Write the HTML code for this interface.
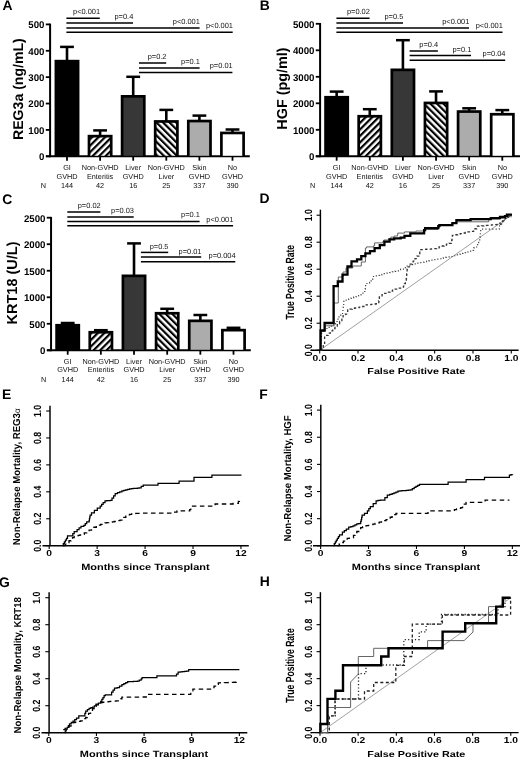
<!DOCTYPE html><html><head><meta charset="utf-8"><style>html,body{margin:0;padding:0;background:#fff;}svg{display:block;filter:blur(0.35px);}</style></head><body><svg width="520" height="759" viewBox="0 0 520 759" text-rendering="geometricPrecision" font-family='"Liberation Sans", sans-serif'>
<defs><pattern id="h1" patternUnits="userSpaceOnUse" width="4.6" height="10" patternTransform="rotate(45)"><rect x="0" y="0" width="2.2" height="10" fill="#000"/><rect x="2.2" y="0" width="2.4" height="10" fill="#fff"/></pattern><pattern id="h2" patternUnits="userSpaceOnUse" width="4.6" height="10" patternTransform="rotate(-45)"><rect x="0" y="0" width="2.2" height="10" fill="#000"/><rect x="2.2" y="0" width="2.4" height="10" fill="#fff"/></pattern></defs>
<rect x="0" y="0" width="520" height="759" fill="#fff"/>
<text x="2.40" y="9.90" font-size="13.9" font-weight="bold" text-anchor="start" fill="#000" >A</text>
<text x="259.80" y="9.90" font-size="13.9" font-weight="bold" text-anchor="start" fill="#000" >B</text>
<text x="2.20" y="204.20" font-size="13.9" font-weight="bold" text-anchor="start" fill="#000" >C</text>
<text x="259.50" y="203.20" font-size="13.9" font-weight="bold" text-anchor="start" fill="#000" >D</text>
<text x="2.10" y="399.20" font-size="13.9" font-weight="bold" text-anchor="start" fill="#000" >E</text>
<text x="259.20" y="398.50" font-size="13.9" font-weight="bold" text-anchor="start" fill="#000" >F</text>
<text x="-0.90" y="586.70" font-size="13.9" font-weight="bold" text-anchor="start" fill="#000" >G</text>
<text x="259.80" y="586.40" font-size="13.9" font-weight="bold" text-anchor="start" fill="#000" >H</text>
<line x1="50.10" y1="23.60" x2="50.10" y2="157.20" stroke="#000" stroke-width="2.0" />
<line x1="45.80" y1="156.30" x2="50.10" y2="156.30" stroke="#000" stroke-width="1.8" />
<text x="44.50" y="160.20" font-size="9.7" font-weight="bold" text-anchor="end" fill="#000" >0</text>
<line x1="45.80" y1="129.92" x2="50.10" y2="129.92" stroke="#000" stroke-width="1.8" />
<text x="44.50" y="133.82" font-size="9.7" font-weight="bold" text-anchor="end" fill="#000" >100</text>
<line x1="45.80" y1="103.54" x2="50.10" y2="103.54" stroke="#000" stroke-width="1.8" />
<text x="44.50" y="107.44" font-size="9.7" font-weight="bold" text-anchor="end" fill="#000" >200</text>
<line x1="45.80" y1="77.16" x2="50.10" y2="77.16" stroke="#000" stroke-width="1.8" />
<text x="44.50" y="81.06" font-size="9.7" font-weight="bold" text-anchor="end" fill="#000" >300</text>
<line x1="45.80" y1="50.78" x2="50.10" y2="50.78" stroke="#000" stroke-width="1.8" />
<text x="44.50" y="54.68" font-size="9.7" font-weight="bold" text-anchor="end" fill="#000" >400</text>
<line x1="45.80" y1="24.40" x2="50.10" y2="24.40" stroke="#000" stroke-width="1.8" />
<text x="44.50" y="28.30" font-size="9.7" font-weight="bold" text-anchor="end" fill="#000" >500</text>
<line x1="46.00" y1="156.30" x2="249.80" y2="156.30" stroke="#000" stroke-width="1.9" />
<line x1="67.00" y1="156.30" x2="67.00" y2="160.70" stroke="#000" stroke-width="1.8" />
<line x1="100.10" y1="156.30" x2="100.10" y2="160.70" stroke="#000" stroke-width="1.8" />
<line x1="133.20" y1="156.30" x2="133.20" y2="160.70" stroke="#000" stroke-width="1.8" />
<line x1="166.30" y1="156.30" x2="166.30" y2="160.70" stroke="#000" stroke-width="1.8" />
<line x1="199.40" y1="156.30" x2="199.40" y2="160.70" stroke="#000" stroke-width="1.8" />
<line x1="232.50" y1="156.30" x2="232.50" y2="160.70" stroke="#000" stroke-width="1.8" />
<line x1="67.00" y1="46.90" x2="67.00" y2="60.80" stroke="#000" stroke-width="2.6" />
<line x1="60.10" y1="46.90" x2="73.90" y2="46.90" stroke="#000" stroke-width="2.5" />
<rect x="54.55" y="59.80" width="24.90" height="96.50" fill="#000"/>
<line x1="100.10" y1="130.40" x2="100.10" y2="135.80" stroke="#000" stroke-width="2.6" />
<line x1="93.20" y1="130.40" x2="107.00" y2="130.40" stroke="#000" stroke-width="2.5" />
<rect x="87.65" y="134.80" width="24.90" height="21.50" fill="#000"/>
<rect x="90.35" y="137.50" width="19.50" height="18.30" fill="url(#h1)"/>
<line x1="133.20" y1="76.80" x2="133.20" y2="96.00" stroke="#000" stroke-width="2.6" />
<line x1="126.30" y1="76.80" x2="140.10" y2="76.80" stroke="#000" stroke-width="2.5" />
<rect x="120.75" y="95.00" width="24.90" height="61.30" fill="#000"/>
<rect x="123.45" y="97.70" width="19.50" height="58.10" fill="#373737"/>
<line x1="166.30" y1="109.90" x2="166.30" y2="121.10" stroke="#000" stroke-width="2.6" />
<line x1="159.40" y1="109.90" x2="173.20" y2="109.90" stroke="#000" stroke-width="2.5" />
<rect x="153.85" y="120.10" width="24.90" height="36.20" fill="#000"/>
<rect x="156.55" y="122.80" width="19.50" height="33.00" fill="url(#h2)"/>
<line x1="199.40" y1="115.60" x2="199.40" y2="120.70" stroke="#000" stroke-width="2.6" />
<line x1="192.50" y1="115.60" x2="206.30" y2="115.60" stroke="#000" stroke-width="2.5" />
<rect x="186.95" y="119.70" width="24.90" height="36.60" fill="#000"/>
<rect x="189.65" y="122.40" width="19.50" height="33.40" fill="#acacac"/>
<line x1="232.50" y1="129.50" x2="232.50" y2="132.60" stroke="#000" stroke-width="2.6" />
<line x1="225.60" y1="129.50" x2="239.40" y2="129.50" stroke="#000" stroke-width="2.5" />
<rect x="220.05" y="131.60" width="24.90" height="24.70" fill="#000"/>
<rect x="222.75" y="134.30" width="19.50" height="21.50" fill="#fff"/>
<line x1="66.40" y1="18.30" x2="99.80" y2="18.30" stroke="#000" stroke-width="1.5" />
<text x="100.10" y="14.20" font-size="7.45" font-weight="normal" text-anchor="end" fill="#111" >p&lt;0.001</text>
<line x1="66.40" y1="23.10" x2="133.00" y2="23.10" stroke="#000" stroke-width="1.5" />
<text x="133.30" y="19.00" font-size="7.45" font-weight="normal" text-anchor="end" fill="#111" >p=0.4</text>
<line x1="66.40" y1="27.90" x2="199.60" y2="27.90" stroke="#000" stroke-width="1.5" />
<text x="199.90" y="23.80" font-size="7.45" font-weight="normal" text-anchor="end" fill="#111" >p&lt;0.001</text>
<line x1="66.40" y1="32.30" x2="232.70" y2="32.30" stroke="#000" stroke-width="1.5" />
<text x="233.00" y="28.20" font-size="7.45" font-weight="normal" text-anchor="end" fill="#111" >p&lt;0.001</text>
<line x1="139.00" y1="63.00" x2="166.20" y2="63.00" stroke="#000" stroke-width="1.5" />
<text x="166.50" y="59.20" font-size="7.45" font-weight="normal" text-anchor="end" fill="#111" >p=0.2</text>
<line x1="139.00" y1="67.90" x2="199.60" y2="67.90" stroke="#000" stroke-width="1.5" />
<text x="199.90" y="64.30" font-size="7.45" font-weight="normal" text-anchor="end" fill="#111" >p=0.1</text>
<line x1="139.00" y1="72.50" x2="232.40" y2="72.50" stroke="#000" stroke-width="1.5" />
<text x="232.70" y="68.40" font-size="7.45" font-weight="normal" text-anchor="end" fill="#111" >p=0.01</text>
<text x="67.00" y="169.60" font-size="7.3" font-weight="normal" text-anchor="middle" fill="#111" >GI</text>
<text x="67.00" y="179.10" font-size="7.3" font-weight="normal" text-anchor="middle" fill="#111" >GVHD</text>
<text x="67.00" y="188.30" font-size="7.3" font-weight="normal" text-anchor="middle" fill="#111" >144</text>
<text x="100.10" y="169.60" font-size="7.3" font-weight="normal" text-anchor="middle" fill="#111" >Non-GVHD</text>
<text x="100.10" y="179.10" font-size="7.3" font-weight="normal" text-anchor="middle" fill="#111" >Enteritis</text>
<text x="100.10" y="188.30" font-size="7.3" font-weight="normal" text-anchor="middle" fill="#111" >42</text>
<text x="133.20" y="169.60" font-size="7.3" font-weight="normal" text-anchor="middle" fill="#111" >Liver</text>
<text x="133.20" y="179.10" font-size="7.3" font-weight="normal" text-anchor="middle" fill="#111" >GVHD</text>
<text x="133.20" y="188.30" font-size="7.3" font-weight="normal" text-anchor="middle" fill="#111" >16</text>
<text x="166.30" y="169.60" font-size="7.3" font-weight="normal" text-anchor="middle" fill="#111" >Non-GVHD</text>
<text x="166.30" y="179.10" font-size="7.3" font-weight="normal" text-anchor="middle" fill="#111" >Liver</text>
<text x="166.30" y="188.30" font-size="7.3" font-weight="normal" text-anchor="middle" fill="#111" >25</text>
<text x="199.40" y="169.60" font-size="7.3" font-weight="normal" text-anchor="middle" fill="#111" >Skin</text>
<text x="199.40" y="179.10" font-size="7.3" font-weight="normal" text-anchor="middle" fill="#111" >GVHD</text>
<text x="199.40" y="188.30" font-size="7.3" font-weight="normal" text-anchor="middle" fill="#111" >337</text>
<text x="232.50" y="169.60" font-size="7.3" font-weight="normal" text-anchor="middle" fill="#111" >No</text>
<text x="232.50" y="179.10" font-size="7.3" font-weight="normal" text-anchor="middle" fill="#111" >GVHD</text>
<text x="232.50" y="188.30" font-size="7.3" font-weight="normal" text-anchor="middle" fill="#111" >390</text>
<text x="40.80" y="188.30" font-size="7.3" font-weight="normal" text-anchor="start" fill="#111" >N</text>
<text transform="translate(23.00,89.10) rotate(-90)" font-size="14.1" font-weight="bold" text-anchor="middle" fill="#000">REG3a (ng/mL)</text>
<line x1="320.10" y1="23.00" x2="320.10" y2="157.20" stroke="#000" stroke-width="2.0" />
<line x1="315.80" y1="156.30" x2="320.10" y2="156.30" stroke="#000" stroke-width="1.8" />
<text x="314.50" y="160.20" font-size="9.7" font-weight="bold" text-anchor="end" fill="#000" >0</text>
<line x1="315.80" y1="129.80" x2="320.10" y2="129.80" stroke="#000" stroke-width="1.8" />
<text x="314.50" y="133.70" font-size="9.7" font-weight="bold" text-anchor="end" fill="#000" >1000</text>
<line x1="315.80" y1="103.30" x2="320.10" y2="103.30" stroke="#000" stroke-width="1.8" />
<text x="314.50" y="107.20" font-size="9.7" font-weight="bold" text-anchor="end" fill="#000" >2000</text>
<line x1="315.80" y1="76.80" x2="320.10" y2="76.80" stroke="#000" stroke-width="1.8" />
<text x="314.50" y="80.70" font-size="9.7" font-weight="bold" text-anchor="end" fill="#000" >3000</text>
<line x1="315.80" y1="50.30" x2="320.10" y2="50.30" stroke="#000" stroke-width="1.8" />
<text x="314.50" y="54.20" font-size="9.7" font-weight="bold" text-anchor="end" fill="#000" >4000</text>
<line x1="315.80" y1="23.80" x2="320.10" y2="23.80" stroke="#000" stroke-width="1.8" />
<text x="314.50" y="27.70" font-size="9.7" font-weight="bold" text-anchor="end" fill="#000" >5000</text>
<line x1="315.80" y1="156.30" x2="520.00" y2="156.30" stroke="#000" stroke-width="1.9" />
<line x1="336.65" y1="156.30" x2="336.65" y2="160.70" stroke="#000" stroke-width="1.8" />
<line x1="369.78" y1="156.30" x2="369.78" y2="160.70" stroke="#000" stroke-width="1.8" />
<line x1="402.91" y1="156.30" x2="402.91" y2="160.70" stroke="#000" stroke-width="1.8" />
<line x1="436.04" y1="156.30" x2="436.04" y2="160.70" stroke="#000" stroke-width="1.8" />
<line x1="469.17" y1="156.30" x2="469.17" y2="160.70" stroke="#000" stroke-width="1.8" />
<line x1="502.30" y1="156.30" x2="502.30" y2="160.70" stroke="#000" stroke-width="1.8" />
<line x1="336.65" y1="91.60" x2="336.65" y2="96.90" stroke="#000" stroke-width="2.6" />
<line x1="329.75" y1="91.60" x2="343.55" y2="91.60" stroke="#000" stroke-width="2.5" />
<rect x="324.20" y="95.90" width="24.90" height="60.40" fill="#000"/>
<line x1="369.78" y1="109.20" x2="369.78" y2="115.90" stroke="#000" stroke-width="2.6" />
<line x1="362.88" y1="109.20" x2="376.68" y2="109.20" stroke="#000" stroke-width="2.5" />
<rect x="357.33" y="114.90" width="24.90" height="41.40" fill="#000"/>
<rect x="360.03" y="117.60" width="19.50" height="38.20" fill="url(#h1)"/>
<line x1="402.91" y1="40.20" x2="402.91" y2="69.50" stroke="#000" stroke-width="2.6" />
<line x1="396.01" y1="40.20" x2="409.81" y2="40.20" stroke="#000" stroke-width="2.5" />
<rect x="390.46" y="68.50" width="24.90" height="87.80" fill="#000"/>
<rect x="393.16" y="71.20" width="19.50" height="84.60" fill="#373737"/>
<line x1="436.04" y1="91.40" x2="436.04" y2="102.60" stroke="#000" stroke-width="2.6" />
<line x1="429.14" y1="91.40" x2="442.94" y2="91.40" stroke="#000" stroke-width="2.5" />
<rect x="423.59" y="101.60" width="24.90" height="54.70" fill="#000"/>
<rect x="426.29" y="104.30" width="19.50" height="51.50" fill="url(#h2)"/>
<line x1="469.17" y1="108.30" x2="469.17" y2="111.20" stroke="#000" stroke-width="2.6" />
<line x1="462.27" y1="108.30" x2="476.07" y2="108.30" stroke="#000" stroke-width="2.5" />
<rect x="456.72" y="110.20" width="24.90" height="46.10" fill="#000"/>
<rect x="459.42" y="112.90" width="19.50" height="42.90" fill="#acacac"/>
<line x1="502.30" y1="110.10" x2="502.30" y2="113.90" stroke="#000" stroke-width="2.6" />
<line x1="495.40" y1="110.10" x2="509.20" y2="110.10" stroke="#000" stroke-width="2.5" />
<rect x="489.85" y="112.90" width="24.90" height="43.40" fill="#000"/>
<rect x="492.55" y="115.60" width="19.50" height="40.20" fill="#fff"/>
<line x1="336.40" y1="18.30" x2="369.60" y2="18.30" stroke="#000" stroke-width="1.5" />
<text x="369.90" y="14.20" font-size="7.45" font-weight="normal" text-anchor="end" fill="#111" >p=0.02</text>
<line x1="336.40" y1="23.10" x2="403.00" y2="23.10" stroke="#000" stroke-width="1.5" />
<text x="403.30" y="19.00" font-size="7.45" font-weight="normal" text-anchor="end" fill="#111" >p=0.5</text>
<line x1="336.40" y1="27.90" x2="469.00" y2="27.90" stroke="#000" stroke-width="1.5" />
<text x="469.30" y="23.80" font-size="7.45" font-weight="normal" text-anchor="end" fill="#111" >p&lt;0.001</text>
<line x1="336.40" y1="32.30" x2="502.50" y2="32.30" stroke="#000" stroke-width="1.5" />
<text x="502.80" y="28.20" font-size="7.45" font-weight="normal" text-anchor="end" fill="#111" >p&lt;0.001</text>
<line x1="409.60" y1="51.00" x2="437.90" y2="51.00" stroke="#000" stroke-width="1.5" />
<text x="438.20" y="47.20" font-size="7.45" font-weight="normal" text-anchor="end" fill="#111" >p=0.4</text>
<line x1="409.60" y1="55.50" x2="471.00" y2="55.50" stroke="#000" stroke-width="1.5" />
<text x="471.30" y="52.40" font-size="7.45" font-weight="normal" text-anchor="end" fill="#111" >p=0.1</text>
<line x1="409.60" y1="60.20" x2="505.20" y2="60.20" stroke="#000" stroke-width="1.5" />
<text x="505.50" y="56.10" font-size="7.45" font-weight="normal" text-anchor="end" fill="#111" >p=0.04</text>
<text x="336.65" y="169.80" font-size="7.3" font-weight="normal" text-anchor="middle" fill="#111" >GI</text>
<text x="336.65" y="179.20" font-size="7.3" font-weight="normal" text-anchor="middle" fill="#111" >GVHD</text>
<text x="336.65" y="188.00" font-size="7.3" font-weight="normal" text-anchor="middle" fill="#111" >144</text>
<text x="369.78" y="169.80" font-size="7.3" font-weight="normal" text-anchor="middle" fill="#111" >Non-GVHD</text>
<text x="369.78" y="179.20" font-size="7.3" font-weight="normal" text-anchor="middle" fill="#111" >Enteritis</text>
<text x="369.78" y="188.00" font-size="7.3" font-weight="normal" text-anchor="middle" fill="#111" >42</text>
<text x="402.91" y="169.80" font-size="7.3" font-weight="normal" text-anchor="middle" fill="#111" >Liver</text>
<text x="402.91" y="179.20" font-size="7.3" font-weight="normal" text-anchor="middle" fill="#111" >GVHD</text>
<text x="402.91" y="188.00" font-size="7.3" font-weight="normal" text-anchor="middle" fill="#111" >16</text>
<text x="436.04" y="169.80" font-size="7.3" font-weight="normal" text-anchor="middle" fill="#111" >Non-GVHD</text>
<text x="436.04" y="179.20" font-size="7.3" font-weight="normal" text-anchor="middle" fill="#111" >Liver</text>
<text x="436.04" y="188.00" font-size="7.3" font-weight="normal" text-anchor="middle" fill="#111" >25</text>
<text x="469.17" y="169.80" font-size="7.3" font-weight="normal" text-anchor="middle" fill="#111" >Skin</text>
<text x="469.17" y="179.20" font-size="7.3" font-weight="normal" text-anchor="middle" fill="#111" >GVHD</text>
<text x="469.17" y="188.00" font-size="7.3" font-weight="normal" text-anchor="middle" fill="#111" >337</text>
<text x="502.30" y="169.80" font-size="7.3" font-weight="normal" text-anchor="middle" fill="#111" >No</text>
<text x="502.30" y="179.20" font-size="7.3" font-weight="normal" text-anchor="middle" fill="#111" >GVHD</text>
<text x="502.30" y="188.00" font-size="7.3" font-weight="normal" text-anchor="middle" fill="#111" >390</text>
<text x="310.00" y="188.00" font-size="7.3" font-weight="normal" text-anchor="start" fill="#111" >N</text>
<text transform="translate(287.00,88.50) rotate(-90)" font-size="14.4" font-weight="bold" text-anchor="middle" fill="#000">HGF (pg/ml)</text>
<line x1="51.05" y1="216.90" x2="51.05" y2="351.20" stroke="#000" stroke-width="2.0" />
<line x1="46.75" y1="350.30" x2="51.05" y2="350.30" stroke="#000" stroke-width="1.8" />
<text x="45.45" y="354.20" font-size="9.7" font-weight="bold" text-anchor="end" fill="#000" >0</text>
<line x1="46.75" y1="323.78" x2="51.05" y2="323.78" stroke="#000" stroke-width="1.8" />
<text x="45.45" y="327.68" font-size="9.7" font-weight="bold" text-anchor="end" fill="#000" >500</text>
<line x1="46.75" y1="297.26" x2="51.05" y2="297.26" stroke="#000" stroke-width="1.8" />
<text x="45.45" y="301.16" font-size="9.7" font-weight="bold" text-anchor="end" fill="#000" >1000</text>
<line x1="46.75" y1="270.74" x2="51.05" y2="270.74" stroke="#000" stroke-width="1.8" />
<text x="45.45" y="274.64" font-size="9.7" font-weight="bold" text-anchor="end" fill="#000" >1500</text>
<line x1="46.75" y1="244.22" x2="51.05" y2="244.22" stroke="#000" stroke-width="1.8" />
<text x="45.45" y="248.12" font-size="9.7" font-weight="bold" text-anchor="end" fill="#000" >2000</text>
<line x1="46.75" y1="217.70" x2="51.05" y2="217.70" stroke="#000" stroke-width="1.8" />
<text x="45.45" y="221.60" font-size="9.7" font-weight="bold" text-anchor="end" fill="#000" >2500</text>
<line x1="47.00" y1="350.30" x2="250.80" y2="350.30" stroke="#000" stroke-width="1.9" />
<line x1="67.70" y1="350.30" x2="67.70" y2="354.70" stroke="#000" stroke-width="1.8" />
<line x1="100.86" y1="350.30" x2="100.86" y2="354.70" stroke="#000" stroke-width="1.8" />
<line x1="134.02" y1="350.30" x2="134.02" y2="354.70" stroke="#000" stroke-width="1.8" />
<line x1="167.18" y1="350.30" x2="167.18" y2="354.70" stroke="#000" stroke-width="1.8" />
<line x1="200.34" y1="350.30" x2="200.34" y2="354.70" stroke="#000" stroke-width="1.8" />
<line x1="233.50" y1="350.30" x2="233.50" y2="354.70" stroke="#000" stroke-width="1.8" />
<line x1="67.70" y1="323.00" x2="67.70" y2="324.90" stroke="#000" stroke-width="2.6" />
<line x1="60.80" y1="323.00" x2="74.60" y2="323.00" stroke="#000" stroke-width="2.5" />
<rect x="55.25" y="323.90" width="24.90" height="26.40" fill="#000"/>
<line x1="100.86" y1="330.20" x2="100.86" y2="331.90" stroke="#000" stroke-width="2.6" />
<line x1="93.96" y1="330.20" x2="107.76" y2="330.20" stroke="#000" stroke-width="2.5" />
<rect x="88.41" y="330.90" width="24.90" height="19.40" fill="#000"/>
<rect x="91.11" y="333.60" width="19.50" height="16.20" fill="url(#h1)"/>
<line x1="134.02" y1="243.40" x2="134.02" y2="275.50" stroke="#000" stroke-width="2.6" />
<line x1="127.12" y1="243.40" x2="140.92" y2="243.40" stroke="#000" stroke-width="2.5" />
<rect x="121.57" y="274.50" width="24.90" height="75.80" fill="#000"/>
<rect x="124.27" y="277.20" width="19.50" height="72.60" fill="#373737"/>
<line x1="167.18" y1="308.80" x2="167.18" y2="312.90" stroke="#000" stroke-width="2.6" />
<line x1="160.28" y1="308.80" x2="174.08" y2="308.80" stroke="#000" stroke-width="2.5" />
<rect x="154.73" y="311.90" width="24.90" height="38.40" fill="#000"/>
<rect x="157.43" y="314.60" width="19.50" height="35.20" fill="url(#h2)"/>
<line x1="200.34" y1="315.00" x2="200.34" y2="320.50" stroke="#000" stroke-width="2.6" />
<line x1="193.44" y1="315.00" x2="207.24" y2="315.00" stroke="#000" stroke-width="2.5" />
<rect x="187.89" y="319.50" width="24.90" height="30.80" fill="#000"/>
<rect x="190.59" y="322.20" width="19.50" height="27.60" fill="#acacac"/>
<line x1="233.50" y1="327.80" x2="233.50" y2="329.80" stroke="#000" stroke-width="2.6" />
<line x1="226.60" y1="327.80" x2="240.40" y2="327.80" stroke="#000" stroke-width="2.5" />
<rect x="221.05" y="328.80" width="24.90" height="21.50" fill="#000"/>
<rect x="223.75" y="331.50" width="19.50" height="18.30" fill="#fff"/>
<line x1="67.30" y1="211.90" x2="100.40" y2="211.90" stroke="#000" stroke-width="1.5" />
<text x="100.70" y="207.80" font-size="7.45" font-weight="normal" text-anchor="end" fill="#111" >p=0.02</text>
<line x1="67.30" y1="217.10" x2="133.70" y2="217.10" stroke="#000" stroke-width="1.5" />
<text x="134.00" y="213.00" font-size="7.45" font-weight="normal" text-anchor="end" fill="#111" >p=0.03</text>
<line x1="67.30" y1="221.50" x2="199.60" y2="221.50" stroke="#000" stroke-width="1.5" />
<text x="199.90" y="217.40" font-size="7.45" font-weight="normal" text-anchor="end" fill="#111" >p=0.1</text>
<line x1="67.30" y1="225.80" x2="233.10" y2="225.80" stroke="#000" stroke-width="1.5" />
<text x="233.40" y="221.70" font-size="7.45" font-weight="normal" text-anchor="end" fill="#111" >p&lt;0.001</text>
<line x1="140.90" y1="252.40" x2="168.20" y2="252.40" stroke="#000" stroke-width="1.5" />
<text x="168.50" y="248.80" font-size="7.45" font-weight="normal" text-anchor="end" fill="#111" >p=0.5</text>
<line x1="140.90" y1="257.00" x2="201.20" y2="257.00" stroke="#000" stroke-width="1.5" />
<text x="201.50" y="253.90" font-size="7.45" font-weight="normal" text-anchor="end" fill="#111" >p=0.01</text>
<line x1="140.90" y1="261.80" x2="235.30" y2="261.80" stroke="#000" stroke-width="1.5" />
<text x="235.60" y="257.70" font-size="7.45" font-weight="normal" text-anchor="end" fill="#111" >p=0.004</text>
<text x="67.70" y="363.70" font-size="7.3" font-weight="normal" text-anchor="middle" fill="#111" >GI</text>
<text x="67.70" y="372.20" font-size="7.3" font-weight="normal" text-anchor="middle" fill="#111" >GVHD</text>
<text x="67.70" y="382.20" font-size="7.3" font-weight="normal" text-anchor="middle" fill="#111" >144</text>
<text x="100.86" y="363.70" font-size="7.3" font-weight="normal" text-anchor="middle" fill="#111" >Non-GVHD</text>
<text x="100.86" y="372.20" font-size="7.3" font-weight="normal" text-anchor="middle" fill="#111" >Enteritis</text>
<text x="100.86" y="382.20" font-size="7.3" font-weight="normal" text-anchor="middle" fill="#111" >42</text>
<text x="134.02" y="363.70" font-size="7.3" font-weight="normal" text-anchor="middle" fill="#111" >Liver</text>
<text x="134.02" y="372.20" font-size="7.3" font-weight="normal" text-anchor="middle" fill="#111" >GVHD</text>
<text x="134.02" y="382.20" font-size="7.3" font-weight="normal" text-anchor="middle" fill="#111" >16</text>
<text x="167.18" y="363.70" font-size="7.3" font-weight="normal" text-anchor="middle" fill="#111" >Non-GVHD</text>
<text x="167.18" y="372.20" font-size="7.3" font-weight="normal" text-anchor="middle" fill="#111" >Liver</text>
<text x="167.18" y="382.20" font-size="7.3" font-weight="normal" text-anchor="middle" fill="#111" >25</text>
<text x="200.34" y="363.70" font-size="7.3" font-weight="normal" text-anchor="middle" fill="#111" >Skin</text>
<text x="200.34" y="372.20" font-size="7.3" font-weight="normal" text-anchor="middle" fill="#111" >GVHD</text>
<text x="200.34" y="382.20" font-size="7.3" font-weight="normal" text-anchor="middle" fill="#111" >337</text>
<text x="233.50" y="363.70" font-size="7.3" font-weight="normal" text-anchor="middle" fill="#111" >No</text>
<text x="233.50" y="372.20" font-size="7.3" font-weight="normal" text-anchor="middle" fill="#111" >GVHD</text>
<text x="233.50" y="382.20" font-size="7.3" font-weight="normal" text-anchor="middle" fill="#111" >390</text>
<text x="41.00" y="382.20" font-size="7.3" font-weight="normal" text-anchor="start" fill="#111" >N</text>
<text transform="translate(17.00,283.00) rotate(-90)" font-size="14.5" font-weight="bold" text-anchor="middle" fill="#000">KRT18 (U/L)</text>
<line x1="320.40" y1="209.70" x2="320.40" y2="350.20" stroke="#000" stroke-width="1.45" />
<line x1="310.80" y1="350.20" x2="518.60" y2="350.20" stroke="#000" stroke-width="1.45" />
<line x1="316.60" y1="350.20" x2="320.40" y2="350.20" stroke="#000" stroke-width="1.1" />
<text transform="translate(311.50,350.20) rotate(-90) scale(1.0,1.2)" font-size="8.7" font-weight="bold" text-anchor="middle" fill="#000">0.0</text>
<line x1="316.60" y1="323.20" x2="320.40" y2="323.20" stroke="#000" stroke-width="1.1" />
<text transform="translate(311.50,323.20) rotate(-90) scale(1.0,1.2)" font-size="8.7" font-weight="bold" text-anchor="middle" fill="#000">0.2</text>
<line x1="316.60" y1="296.20" x2="320.40" y2="296.20" stroke="#000" stroke-width="1.1" />
<text transform="translate(311.50,296.20) rotate(-90) scale(1.0,1.2)" font-size="8.7" font-weight="bold" text-anchor="middle" fill="#000">0.4</text>
<line x1="316.60" y1="269.20" x2="320.40" y2="269.20" stroke="#000" stroke-width="1.1" />
<text transform="translate(311.50,269.20) rotate(-90) scale(1.0,1.2)" font-size="8.7" font-weight="bold" text-anchor="middle" fill="#000">0.6</text>
<line x1="316.60" y1="242.20" x2="320.40" y2="242.20" stroke="#000" stroke-width="1.1" />
<text transform="translate(311.50,242.20) rotate(-90) scale(1.0,1.2)" font-size="8.7" font-weight="bold" text-anchor="middle" fill="#000">0.8</text>
<line x1="316.60" y1="215.20" x2="320.40" y2="215.20" stroke="#000" stroke-width="1.1" />
<text transform="translate(311.50,215.20) rotate(-90) scale(1.0,1.2)" font-size="8.7" font-weight="bold" text-anchor="middle" fill="#000">1.0</text>
<line x1="319.70" y1="350.20" x2="319.70" y2="353.40" stroke="#000" stroke-width="1.1" />
<text transform="translate(319.70,360.50) scale(1.18,1.0)" font-size="8.7" font-weight="bold" text-anchor="middle" fill="#000">0.0</text>
<line x1="358.02" y1="350.20" x2="358.02" y2="353.40" stroke="#000" stroke-width="1.1" />
<text transform="translate(358.02,360.50) scale(1.18,1.0)" font-size="8.7" font-weight="bold" text-anchor="middle" fill="#000">0.2</text>
<line x1="396.34" y1="350.20" x2="396.34" y2="353.40" stroke="#000" stroke-width="1.1" />
<text transform="translate(396.34,360.50) scale(1.18,1.0)" font-size="8.7" font-weight="bold" text-anchor="middle" fill="#000">0.4</text>
<line x1="434.66" y1="350.20" x2="434.66" y2="353.40" stroke="#000" stroke-width="1.1" />
<text transform="translate(434.66,360.50) scale(1.18,1.0)" font-size="8.7" font-weight="bold" text-anchor="middle" fill="#000">0.6</text>
<line x1="472.98" y1="350.20" x2="472.98" y2="353.40" stroke="#000" stroke-width="1.1" />
<text transform="translate(472.98,360.50) scale(1.18,1.0)" font-size="8.7" font-weight="bold" text-anchor="middle" fill="#000">0.8</text>
<line x1="511.30" y1="350.20" x2="511.30" y2="353.40" stroke="#000" stroke-width="1.1" />
<text transform="translate(511.30,360.50) scale(1.18,1.0)" font-size="8.7" font-weight="bold" text-anchor="middle" fill="#000">1.0</text>
<text transform="translate(416.30,374.40) scale(1.25,1.0)" font-size="8.6" font-weight="bold" text-anchor="middle" fill="#000">False Positive Rate</text>
<text transform="translate(294.20,282.20) rotate(-90) scale(1.0,1.38)" font-size="8.6" font-weight="bold" text-anchor="middle" fill="#000">True Positive Rate</text>
<line x1="50.00" y1="405.80" x2="50.00" y2="545.70" stroke="#000" stroke-width="1.45" />
<line x1="42.50" y1="545.70" x2="248.80" y2="545.70" stroke="#000" stroke-width="1.45" />
<line x1="46.20" y1="545.70" x2="50.00" y2="545.70" stroke="#000" stroke-width="1.1" />
<text transform="translate(40.80,545.70) rotate(-90) scale(1.0,1.2)" font-size="8.7" font-weight="bold" text-anchor="middle" fill="#000">0.0</text>
<line x1="46.20" y1="518.76" x2="50.00" y2="518.76" stroke="#000" stroke-width="1.1" />
<text transform="translate(40.80,518.76) rotate(-90) scale(1.0,1.2)" font-size="8.7" font-weight="bold" text-anchor="middle" fill="#000">0.2</text>
<line x1="46.20" y1="491.82" x2="50.00" y2="491.82" stroke="#000" stroke-width="1.1" />
<text transform="translate(40.80,491.82) rotate(-90) scale(1.0,1.2)" font-size="8.7" font-weight="bold" text-anchor="middle" fill="#000">0.4</text>
<line x1="46.20" y1="464.88" x2="50.00" y2="464.88" stroke="#000" stroke-width="1.1" />
<text transform="translate(40.80,464.88) rotate(-90) scale(1.0,1.2)" font-size="8.7" font-weight="bold" text-anchor="middle" fill="#000">0.6</text>
<line x1="46.20" y1="437.94" x2="50.00" y2="437.94" stroke="#000" stroke-width="1.1" />
<text transform="translate(40.80,437.94) rotate(-90) scale(1.0,1.2)" font-size="8.7" font-weight="bold" text-anchor="middle" fill="#000">0.8</text>
<line x1="46.20" y1="411.00" x2="50.00" y2="411.00" stroke="#000" stroke-width="1.1" />
<text transform="translate(40.80,411.00) rotate(-90) scale(1.0,1.2)" font-size="8.7" font-weight="bold" text-anchor="middle" fill="#000">1.0</text>
<line x1="49.20" y1="545.70" x2="49.20" y2="548.90" stroke="#000" stroke-width="1.1" />
<text transform="translate(49.20,556.00) scale(1.18,1.0)" font-size="8.7" font-weight="bold" text-anchor="middle" fill="#000">0</text>
<line x1="97.14" y1="545.70" x2="97.14" y2="548.90" stroke="#000" stroke-width="1.1" />
<text transform="translate(97.14,556.00) scale(1.18,1.0)" font-size="8.7" font-weight="bold" text-anchor="middle" fill="#000">3</text>
<line x1="145.08" y1="545.70" x2="145.08" y2="548.90" stroke="#000" stroke-width="1.1" />
<text transform="translate(145.08,556.00) scale(1.18,1.0)" font-size="8.7" font-weight="bold" text-anchor="middle" fill="#000">6</text>
<line x1="193.02" y1="545.70" x2="193.02" y2="548.90" stroke="#000" stroke-width="1.1" />
<text transform="translate(193.02,556.00) scale(1.18,1.0)" font-size="8.7" font-weight="bold" text-anchor="middle" fill="#000">9</text>
<line x1="240.96" y1="545.70" x2="240.96" y2="548.90" stroke="#000" stroke-width="1.1" />
<text transform="translate(240.96,556.00) scale(1.18,1.0)" font-size="8.7" font-weight="bold" text-anchor="middle" fill="#000">12</text>
<text transform="translate(145.40,570.10) scale(1.216,1.0)" font-size="9.0" font-weight="bold" text-anchor="middle" fill="#000">Months since Transplant</text>
<text transform="translate(20.40,476.80) rotate(-90) scale(1.0,1.05)" font-size="9.6" font-weight="bold" text-anchor="middle" fill="#000">Non-Relapse Mortality, REG3<tspan font-weight="normal" font-size="8">&#945;</tspan></text>
<line x1="320.80" y1="404.70" x2="320.80" y2="545.80" stroke="#000" stroke-width="1.45" />
<line x1="313.00" y1="545.80" x2="520.00" y2="545.80" stroke="#000" stroke-width="1.45" />
<line x1="317.00" y1="545.80" x2="320.80" y2="545.80" stroke="#000" stroke-width="1.1" />
<text transform="translate(312.00,545.80) rotate(-90) scale(1.0,1.2)" font-size="8.7" font-weight="bold" text-anchor="middle" fill="#000">0.0</text>
<line x1="317.00" y1="518.66" x2="320.80" y2="518.66" stroke="#000" stroke-width="1.1" />
<text transform="translate(312.00,518.66) rotate(-90) scale(1.0,1.2)" font-size="8.7" font-weight="bold" text-anchor="middle" fill="#000">0.2</text>
<line x1="317.00" y1="491.52" x2="320.80" y2="491.52" stroke="#000" stroke-width="1.1" />
<text transform="translate(312.00,491.52) rotate(-90) scale(1.0,1.2)" font-size="8.7" font-weight="bold" text-anchor="middle" fill="#000">0.4</text>
<line x1="317.00" y1="464.38" x2="320.80" y2="464.38" stroke="#000" stroke-width="1.1" />
<text transform="translate(312.00,464.38) rotate(-90) scale(1.0,1.2)" font-size="8.7" font-weight="bold" text-anchor="middle" fill="#000">0.6</text>
<line x1="317.00" y1="437.24" x2="320.80" y2="437.24" stroke="#000" stroke-width="1.1" />
<text transform="translate(312.00,437.24) rotate(-90) scale(1.0,1.2)" font-size="8.7" font-weight="bold" text-anchor="middle" fill="#000">0.8</text>
<line x1="317.00" y1="410.10" x2="320.80" y2="410.10" stroke="#000" stroke-width="1.1" />
<text transform="translate(312.00,410.10) rotate(-90) scale(1.0,1.2)" font-size="8.7" font-weight="bold" text-anchor="middle" fill="#000">1.0</text>
<line x1="320.60" y1="545.80" x2="320.60" y2="549.00" stroke="#000" stroke-width="1.1" />
<text transform="translate(320.60,556.10) scale(1.18,1.0)" font-size="8.7" font-weight="bold" text-anchor="middle" fill="#000">0</text>
<line x1="368.54" y1="545.80" x2="368.54" y2="549.00" stroke="#000" stroke-width="1.1" />
<text transform="translate(368.54,556.10) scale(1.18,1.0)" font-size="8.7" font-weight="bold" text-anchor="middle" fill="#000">3</text>
<line x1="416.48" y1="545.80" x2="416.48" y2="549.00" stroke="#000" stroke-width="1.1" />
<text transform="translate(416.48,556.10) scale(1.18,1.0)" font-size="8.7" font-weight="bold" text-anchor="middle" fill="#000">6</text>
<line x1="464.42" y1="545.80" x2="464.42" y2="549.00" stroke="#000" stroke-width="1.1" />
<text transform="translate(464.42,556.10) scale(1.18,1.0)" font-size="8.7" font-weight="bold" text-anchor="middle" fill="#000">9</text>
<line x1="512.36" y1="545.80" x2="512.36" y2="549.00" stroke="#000" stroke-width="1.1" />
<text transform="translate(512.36,556.10) scale(1.18,1.0)" font-size="8.7" font-weight="bold" text-anchor="middle" fill="#000">12</text>
<text transform="translate(416.00,570.10) scale(1.216,1.0)" font-size="9.0" font-weight="bold" text-anchor="middle" fill="#000">Months since Transplant</text>
<text transform="translate(291.30,478.40) rotate(-90) scale(1.0,1.05)" font-size="9.6" font-weight="bold" text-anchor="middle" fill="#000">Non-Relapse Mortality, HGF</text>
<line x1="49.10" y1="592.20" x2="49.10" y2="732.70" stroke="#000" stroke-width="1.45" />
<line x1="41.50" y1="732.70" x2="247.30" y2="732.70" stroke="#000" stroke-width="1.45" />
<line x1="45.30" y1="732.70" x2="49.10" y2="732.70" stroke="#000" stroke-width="1.1" />
<text transform="translate(40.10,732.70) rotate(-90) scale(1.0,1.2)" font-size="8.7" font-weight="bold" text-anchor="middle" fill="#000">0.0</text>
<line x1="45.30" y1="705.70" x2="49.10" y2="705.70" stroke="#000" stroke-width="1.1" />
<text transform="translate(40.10,705.70) rotate(-90) scale(1.0,1.2)" font-size="8.7" font-weight="bold" text-anchor="middle" fill="#000">0.2</text>
<line x1="45.30" y1="678.70" x2="49.10" y2="678.70" stroke="#000" stroke-width="1.1" />
<text transform="translate(40.10,678.70) rotate(-90) scale(1.0,1.2)" font-size="8.7" font-weight="bold" text-anchor="middle" fill="#000">0.4</text>
<line x1="45.30" y1="651.70" x2="49.10" y2="651.70" stroke="#000" stroke-width="1.1" />
<text transform="translate(40.10,651.70) rotate(-90) scale(1.0,1.2)" font-size="8.7" font-weight="bold" text-anchor="middle" fill="#000">0.6</text>
<line x1="45.30" y1="624.70" x2="49.10" y2="624.70" stroke="#000" stroke-width="1.1" />
<text transform="translate(40.10,624.70) rotate(-90) scale(1.0,1.2)" font-size="8.7" font-weight="bold" text-anchor="middle" fill="#000">0.8</text>
<line x1="45.30" y1="597.70" x2="49.10" y2="597.70" stroke="#000" stroke-width="1.1" />
<text transform="translate(40.10,597.70) rotate(-90) scale(1.0,1.2)" font-size="8.7" font-weight="bold" text-anchor="middle" fill="#000">1.0</text>
<line x1="48.80" y1="732.70" x2="48.80" y2="735.90" stroke="#000" stroke-width="1.1" />
<text transform="translate(48.80,743.00) scale(1.18,1.0)" font-size="8.7" font-weight="bold" text-anchor="middle" fill="#000">0</text>
<line x1="96.44" y1="732.70" x2="96.44" y2="735.90" stroke="#000" stroke-width="1.1" />
<text transform="translate(96.44,743.00) scale(1.18,1.0)" font-size="8.7" font-weight="bold" text-anchor="middle" fill="#000">3</text>
<line x1="144.08" y1="732.70" x2="144.08" y2="735.90" stroke="#000" stroke-width="1.1" />
<text transform="translate(144.08,743.00) scale(1.18,1.0)" font-size="8.7" font-weight="bold" text-anchor="middle" fill="#000">6</text>
<line x1="191.72" y1="732.70" x2="191.72" y2="735.90" stroke="#000" stroke-width="1.1" />
<text transform="translate(191.72,743.00) scale(1.18,1.0)" font-size="8.7" font-weight="bold" text-anchor="middle" fill="#000">9</text>
<line x1="239.36" y1="732.70" x2="239.36" y2="735.90" stroke="#000" stroke-width="1.1" />
<text transform="translate(239.36,743.00) scale(1.18,1.0)" font-size="8.7" font-weight="bold" text-anchor="middle" fill="#000">12</text>
<text transform="translate(144.00,757.00) scale(1.216,1.0)" font-size="9.0" font-weight="bold" text-anchor="middle" fill="#000">Months since Transplant</text>
<text transform="translate(20.80,665.30) rotate(-90) scale(1.0,1.05)" font-size="9.6" font-weight="bold" text-anchor="middle" fill="#000">Non-Relapse Mortality, KRT18</text>
<line x1="320.40" y1="592.20" x2="320.40" y2="732.60" stroke="#000" stroke-width="1.45" />
<line x1="310.80" y1="732.60" x2="518.60" y2="732.60" stroke="#000" stroke-width="1.45" />
<line x1="316.60" y1="732.60" x2="320.40" y2="732.60" stroke="#000" stroke-width="1.1" />
<text transform="translate(311.70,732.60) rotate(-90) scale(1.0,1.2)" font-size="8.7" font-weight="bold" text-anchor="middle" fill="#000">0.0</text>
<line x1="316.60" y1="705.62" x2="320.40" y2="705.62" stroke="#000" stroke-width="1.1" />
<text transform="translate(311.70,705.62) rotate(-90) scale(1.0,1.2)" font-size="8.7" font-weight="bold" text-anchor="middle" fill="#000">0.2</text>
<line x1="316.60" y1="678.64" x2="320.40" y2="678.64" stroke="#000" stroke-width="1.1" />
<text transform="translate(311.70,678.64) rotate(-90) scale(1.0,1.2)" font-size="8.7" font-weight="bold" text-anchor="middle" fill="#000">0.4</text>
<line x1="316.60" y1="651.66" x2="320.40" y2="651.66" stroke="#000" stroke-width="1.1" />
<text transform="translate(311.70,651.66) rotate(-90) scale(1.0,1.2)" font-size="8.7" font-weight="bold" text-anchor="middle" fill="#000">0.6</text>
<line x1="316.60" y1="624.68" x2="320.40" y2="624.68" stroke="#000" stroke-width="1.1" />
<text transform="translate(311.70,624.68) rotate(-90) scale(1.0,1.2)" font-size="8.7" font-weight="bold" text-anchor="middle" fill="#000">0.8</text>
<line x1="316.60" y1="597.70" x2="320.40" y2="597.70" stroke="#000" stroke-width="1.1" />
<text transform="translate(311.70,597.70) rotate(-90) scale(1.0,1.2)" font-size="8.7" font-weight="bold" text-anchor="middle" fill="#000">1.0</text>
<line x1="320.00" y1="732.60" x2="320.00" y2="735.80" stroke="#000" stroke-width="1.1" />
<text transform="translate(320.00,742.90) scale(1.18,1.0)" font-size="8.7" font-weight="bold" text-anchor="middle" fill="#000">0.0</text>
<line x1="358.16" y1="732.60" x2="358.16" y2="735.80" stroke="#000" stroke-width="1.1" />
<text transform="translate(358.16,742.90) scale(1.18,1.0)" font-size="8.7" font-weight="bold" text-anchor="middle" fill="#000">0.2</text>
<line x1="396.32" y1="732.60" x2="396.32" y2="735.80" stroke="#000" stroke-width="1.1" />
<text transform="translate(396.32,742.90) scale(1.18,1.0)" font-size="8.7" font-weight="bold" text-anchor="middle" fill="#000">0.4</text>
<line x1="434.48" y1="732.60" x2="434.48" y2="735.80" stroke="#000" stroke-width="1.1" />
<text transform="translate(434.48,742.90) scale(1.18,1.0)" font-size="8.7" font-weight="bold" text-anchor="middle" fill="#000">0.6</text>
<line x1="472.64" y1="732.60" x2="472.64" y2="735.80" stroke="#000" stroke-width="1.1" />
<text transform="translate(472.64,742.90) scale(1.18,1.0)" font-size="8.7" font-weight="bold" text-anchor="middle" fill="#000">0.8</text>
<line x1="510.80" y1="732.60" x2="510.80" y2="735.80" stroke="#000" stroke-width="1.1" />
<text transform="translate(510.80,742.90) scale(1.18,1.0)" font-size="8.7" font-weight="bold" text-anchor="middle" fill="#000">1.0</text>
<text transform="translate(416.30,757.00) scale(1.25,1.0)" font-size="8.6" font-weight="bold" text-anchor="middle" fill="#000">False Positive Rate</text>
<text transform="translate(294.20,665.50) rotate(-90) scale(1.0,1.38)" font-size="8.6" font-weight="bold" text-anchor="middle" fill="#000">True Positive Rate</text>
<line x1="320.00" y1="350.10" x2="511.30" y2="215.20" stroke="#888" stroke-width="0.8" />
<line x1="320.20" y1="732.60" x2="510.80" y2="597.70" stroke="#888" stroke-width="0.8" />
<path d="M320.60,350.00H320.74V347.60H320.88V345.20H321.01V342.80H321.15V340.40H321.29V338.00H321.43V335.60H321.56V333.20H321.70V330.80H324.60V328.50H326.90V327.35H329.20V326.20H331.50V325.00H333.80V323.80H335.55V321.50H337.30V319.20H339.00V315.80H340.75V313.50H342.50V311.20H342.90V309.07H343.30V306.93H343.70V304.80H343.70V301.30H346.20V300.17H348.70V299.03H351.20V297.90H353.65V296.88H356.10V295.85H358.55V294.82H361.00V293.80H363.00V291.50H365.00V289.20H365.30V286.35H365.60V283.50H367.60V282.90H369.60V282.30H371.15V279.40H372.70V276.50H375.00V275.94H377.30V275.38H379.60V274.82H381.90V274.26H384.20V273.70H386.90V273.12H389.60V272.54H392.30V271.96H395.00V271.38H397.70V270.80H400.57V269.20H403.43V267.60H406.30V266.00H408.95V265.27H411.60V264.55H414.25V263.83H416.90V263.10H419.31V262.61H421.72V262.12H424.14V261.64H426.55V261.15H428.96V260.66H431.38V260.18H433.79V259.69H436.20V259.20H438.57V258.75H440.93V258.30H443.30V257.85H445.67V257.40H448.03V256.95H450.40V256.50H452.92V255.74H455.45V254.97H457.98V254.21H460.50V253.45H463.02V252.69H465.55V251.93H468.08V251.16H470.60V250.40H473.60V247.90H476.60V245.40H477.63V242.70H478.67V240.00H479.70V237.30H480.03V234.60H480.37V231.90H480.70V229.20H498.90V229.20H499.27V226.80H499.63V224.40H500.00V222.00H502.75V220.25H505.50V218.50H508.25V216.75H511.00V215.00" fill="none" stroke="#444" stroke-width="1.2" stroke-dasharray="1.2,2.2"/>
<path d="M320.60,350.00H321.93V347.83H323.27V345.67H324.60V343.50H324.60V335.40H328.10V333.10H330.40V330.80H332.70V328.50H335.00V326.18H337.30V323.85H339.60V321.52H341.90V319.20H342.50V316.90H343.10V314.60H345.40V314.05H347.70V313.50H347.70V310.00H350.00V309.15H352.30V308.30H354.60V308.00H356.90V307.70H359.20V307.10H361.50V306.50H363.85V305.65H366.20V304.80H368.66V304.54H371.12V304.28H373.58V304.02H376.04V303.76H378.50V303.50H378.80V300.93H379.10V298.37H379.40V295.80H382.05V294.60H384.70V293.40H387.35V292.20H390.00V291.00H392.57V290.03H395.13V289.07H397.70V288.10H400.60V287.15H403.50V286.20H404.43V283.63H405.37V281.07H406.30V278.50H406.50V276.18H406.70V273.86H406.90V271.54H407.10V269.22H407.30V266.90H410.20V264.05H413.10V261.20H415.00V258.63H416.90V256.07H418.80V253.50H419.80V251.55H420.80V249.60H423.48V249.42H426.16V249.24H428.84V249.06H431.52V248.88H434.20V248.70H436.66V247.80H439.11V246.90H441.57V246.00H444.03V245.10H446.49V244.20H448.94V243.30H451.40V242.40H451.73V240.03H452.07V237.67H452.40V235.30H455.00V234.73H457.60V234.16H460.20V233.59H462.80V233.01H465.40V232.44H468.00V231.87H470.60V231.30H473.60V228.75H476.60V226.20H479.04V226.00H481.48V225.80H483.92V225.60H486.36V225.40H488.80V225.20H491.60V224.90H494.40V224.60H497.20V224.30H500.00V224.00H502.50V221.00H505.00V218.00H508.00V216.50H511.00V215.00" fill="none" stroke="#333" stroke-width="1.3" stroke-dasharray="2.6,2.4"/>
<path d="M320.6,350 V331 H325.2 V325.8 H334 V303 H338.3 V277 H343 V272 H346 V268 H352.7 V266 H361.3 V262 H365.4 V248.1 H366.5 V246.9 H373.5 V245.8 H374.6 V242.9 H382.7 V241.7 H383.8 V240 H388.5 V238.8 H390.8 V237.1 H394.2 V236 H397.7 V233.1 H404.5 V231.9 H416 V231 H424 V229.5 H438 V227 H440 V225 H452 V223 H456 V221.8 H488.8 V219 H500 V218 H505 V216.5 H508 V215 H512" fill="none" stroke="#666" stroke-width="1.0" />
<path d="M320.6,350 V330.5 H324.6 V323 H333.6 V286.2 H337.8 V281.5 H342.5 V274.6 H347.5 V266.5 H351.5 V261.3 H357 V259.3 H361.3 V256.2 H365.4 V253.3 H370 V251.2 H374.6 V248.1 H379.8 V245.2 H384.4 V241.7 H389.6 V239.4 H394.2 V238.3 H400.7 V237.7 H404.5 V235.8 H410.3 V233.3 H424.1 V230.2 H425.1 V228.2 H438.3 V226.2 H439.3 V225.2 H452.4 V223.2 H456.4 V220.1 H470.6 V219.1 H490.8 V218.1 H500 V217 H505 V216.1 H506.9 V214.7 H512" fill="none" stroke="#000" stroke-width="2.3" />
<path d="M327.7,732.6 V715.8 H335.2 V699 H358.5 V673.7 H366 V665 H403.8 V639.6 H419.2 V631.9 H426.2 V624.2 H441.5 V614.5 H498 V606.6 H505 V597.7 H510.6" fill="none" stroke="#222" stroke-width="1.3" stroke-dasharray="1.2,2.2"/>
<path d="M320.4,732.6 H329.3 V715.8 H335 V699 H364.5 V691 H373.7 V682.5 H395.8 V665.4 H404.4 V656.5 H412.3 V624.2 H442.3 V615 H510.6 V597.7" fill="none" stroke="#222" stroke-width="1.3" stroke-dasharray="3,2.5"/>
<path d="M320.4,732.6 H327.5 V707.5 H350.6 V682 L358.3,674 V656.5 H373.7 V648.3 H427.6 V640.6 H464.1 L473,632 V623.2 H488.5 V606.6 H503 V598.5 H510.6" fill="none" stroke="#666" stroke-width="1.0" />
<path d="M320.4,732.6 V724 H327.5 V698.9 H335.4 V690.7 H343 V665.2 H381.2 V656.5 H388.5 V648.3 H442.6 V631.6 H465.2 V623.2 H496.2 V606.6 H502.8 V597.7 H510.6" fill="none" stroke="#000" stroke-width="2.4" />
<path d="M62.20,545.50H63.28V543.70H64.35V541.90H65.42V540.10H66.50V538.30H67.50V535.90H71.80V535.90H72.80V533.50H74.20V531.50H77.10V529.60H79.05V527.95H81.00V526.30H83.80V525.30H85.25V523.60H86.70V521.90H89.10V520.50H89.43V518.73H89.77V516.97H90.10V515.20H91.50V512.80H94.40V510.40H97.30V508.00H100.20V506.10H101.65V504.40H103.10V502.70H105.00V500.80H106.80V500.67H108.60V500.53H110.40V500.40H112.00V498.17H113.60V495.93H115.20V493.70H117.43V492.73H119.67V491.77H121.90V490.80H123.83V490.30H125.75V489.80H127.67V489.30H129.60V488.80H131.52V488.62H133.44V488.44H135.36V488.26H137.28V488.08H139.20V487.90H141.20V486.45H143.20V485.00H158.00V485.00H158.00V483.30H179.10V483.30H179.10V481.20H194.00V481.20H194.00V477.30H211.90V477.30H211.90V475.20H241.50V475.20" fill="none" stroke="#000" stroke-width="1.25" />
<path d="M63.30,545.50H65.20V544.10H67.10V542.70H69.00V540.75H70.90V538.80H72.55V537.55H74.20V536.30H76.12V535.82H78.05V535.35H79.98V534.88H81.90V534.40H84.30V532.95H86.70V531.50H89.10V530.10H91.50V528.70H93.90V527.25H96.30V525.80H98.47V525.07H100.65V524.35H102.83V523.62H105.00V522.90H106.84V522.62H108.68V522.34H110.52V522.06H112.36V521.78H114.20V521.50H116.12V521.02H118.05V520.55H119.98V520.08H121.90V519.60H123.85V517.45H125.80V515.30H127.72V514.88H129.65V514.45H131.57V514.02H133.50V513.60H135.67V513.47H137.83V513.33H140.00V513.20H171.70V513.20H171.70V512.20H177.00V512.20H177.00V510.80H189.70V510.80H189.70V509.70H190.80V509.70H190.80V506.10H213.00V506.10H213.00V505.50H215.10V505.50H215.10V504.00H233.10V504.00H233.10V503.40H238.40V503.40H238.40V501.30H239.40V501.30H239.40V500.30" fill="none" stroke="#000" stroke-width="1.3" stroke-dasharray="4.5,3.5"/>
<path d="M333.30,545.60H334.30V543.73H335.30V541.87H336.30V540.00H337.37V538.30H338.43V536.60H339.50V534.90H342.40V532.00H344.35V530.55H346.30V529.10H348.70V527.20H350.85V526.50H353.00V525.80H354.90V524.80H356.80V523.80H358.50V523.60H360.20V523.40H360.70V521.45H361.20V519.50H361.65V517.35H362.10V515.20H364.50V513.30H367.40V510.90H368.85V508.70H370.30V506.50H373.20V503.70H376.10V500.80H378.00V500.30H380.25V500.15H382.50V500.00H384.90V497.50H387.30V495.00H389.70V494.35H392.10V493.70H394.03V492.87H395.97V492.03H397.90V491.20H399.98V490.97H402.07V490.73H404.15V490.50H406.23V490.27H408.32V490.03H410.40V489.80H412.30V488.55H414.20V487.30H415.97V486.30H417.73V485.30H419.50V484.30H448.10V484.30H448.10V482.20H466.10V482.20H466.10V479.70H484.50V479.70H484.50V477.30H509.40V477.30H509.40V475.00H511.00V474.70H512.60V474.40" fill="none" stroke="#000" stroke-width="1.25" />
<path d="M337.10,545.60H339.20V544.13H341.30V542.67H343.40V541.20H345.30V539.75H347.20V538.30H349.15V538.05H351.10V537.80H353.50V535.40H355.15V533.45H356.80V531.50H358.75V529.60H360.70V527.70H362.60V526.75H364.50V525.80H366.45V525.55H368.40V525.30H370.63V524.67H372.87V524.03H375.10V523.40H377.23V522.80H379.37V522.20H381.50V521.60H383.77V520.63H386.03V519.67H388.30V518.70H390.20V517.25H392.10V515.80H394.05V514.65H396.00V513.50H398.10V513.46H400.20V513.42H402.30V513.38H404.40V513.34H406.50V513.30H428.00V513.30H428.00V510.80H452.30V510.80H452.30V510.30H454.43V509.62H456.55V508.95H458.68V508.28H460.80V507.60H462.57V505.83H464.33V504.07H466.10V502.30H485.10V502.30H485.10V500.20H509.40V500.20" fill="none" stroke="#000" stroke-width="1.3" stroke-dasharray="4.5,3.5"/>
<path d="M64.30,732.70H65.27V730.90H66.23V729.10H67.20V727.30H68.35V725.55H69.50V723.80H71.25V722.40H73.00V721.00H74.75V719.55H76.50V718.10H78.80V715.80H84.00V715.80H84.85V713.45H85.70V711.10H87.40V709.70H89.10V708.30H90.85V707.70H92.60V707.10H94.35V705.95H96.10V704.80H98.40V703.10H100.70V701.30H101.83V699.40H102.97V697.50H104.10V695.60H105.30V694.80H111.10V694.80H111.60V692.10H113.05V690.10H114.50V688.10H117.10V687.50H119.50V686.05H121.90V684.60H123.83V683.63H125.77V682.67H127.70V681.70H129.62V681.60H131.54V681.50H133.46V681.40H135.38V681.30H137.30V681.20H139.25V680.00H141.20V678.80H142.10V677.50H156.90V677.50H156.90V675.80H174.90V675.80H176.50V674.00H178.10V672.20H180.20V671.95H182.30V671.70H184.40V671.45H186.50V671.20H188.70V669.50H239.40V669.50" fill="none" stroke="#000" stroke-width="1.25" />
<path d="M63.20,729.60H65.13V728.43H67.07V727.27H69.00V726.10H71.00V724.40H73.00V722.70H74.88V722.25H76.75V721.80H78.62V721.35H80.50V720.90H82.23V719.77H83.97V718.63H85.70V717.50H87.15V715.45H88.60V713.40H90.55V710.95H92.50V708.50H94.30V706.35H96.10V704.20H98.40V703.35H100.70V702.50H102.54V702.26H104.38V702.02H106.22V701.78H108.06V701.54H109.90V701.30H111.93V701.17H113.95V701.05H115.97V700.92H118.00V700.80H120.00V700.40H120.95V698.75H121.90V697.10H123.93V697.09H125.97V697.08H128.00V697.08H130.03V697.07H132.07V697.06H134.10V697.05H136.13V697.04H138.17V697.03H140.20V697.02H142.23V697.02H144.27V697.01H146.30V697.00H146.30V694.40H189.70V694.40H190.77V692.63H191.83V690.87H192.90V689.10H211.90V689.10H211.90V687.70H214.03V686.07H216.17V684.43H218.30V682.80H220.30V682.73H222.30V682.67H224.30V682.60H226.30V682.53H228.30V682.47H230.30V682.40H232.30V682.33H234.30V682.27H236.30V682.20H236.30V680.70H237.30V680.00" fill="none" stroke="#000" stroke-width="1.3" stroke-dasharray="4.5,3.5"/>
</svg></body></html>
